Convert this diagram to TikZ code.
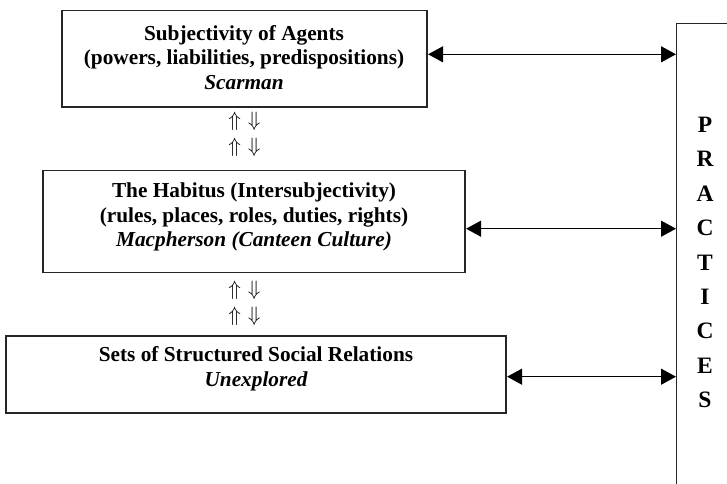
\documentclass[tikz,border=0pt]{standalone}
\usepackage{fontspec}
\setmainfont{Liberation Serif}
\usetikzlibrary{arrows.meta}
\tikzset{
  boxshape/.style={draw=black!85, line width=1.2pt, rectangle, inner sep=0pt},
  boxtext/.style={align=center, inner sep=0pt, font=\fontsize{21.3}{24.5}\selectfont\bfseries},
  dbl/.style={line width=1.2pt, {Triangle[length=15pt,width=16pt]}-{Triangle[length=15pt,width=16pt]}, shorten <=0.5pt},
  updown/.style={inner sep=0pt, font=\fontsize{20.5}{24}\selectfont},
  lettercol/.style={align=center, inner sep=0pt, font=\fontsize{23.5}{34.4}\selectfont\bfseries}
}
\newcommand{\ud}{$\Uparrow$\hspace{7pt}$\Downarrow$}
\begin{document}
\begin{tikzpicture}[x=1pt,y=1pt]
\useasboundingbox (0,0) rectangle (727,483);
\clip (0,0) rectangle (727,483);
% boxes
\node[boxshape, minimum width=365pt, minimum height=96.3pt] (b1) at (244.5,424.15) {};
\node[boxshape, minimum width=422pt, minimum height=102pt] (b2) at (254,261.3) {};
\node[boxshape, minimum width=500pt, minimum height=77pt] (b3) at (256,108.5) {};
% practices box (extends past the right and bottom edges)
\node[boxshape, minimum width=140pt, minimum height=500pt, anchor=north west] (pr) at (676,460.3) {};
% texts
\node[boxtext] (t1) at (244,425.5) {Subjectivity of Agents\\(powers, liabilities, predispositions)\\\itshape Scarman};
\node[boxtext] (t2) at (254,266) {The Habitus (Intersubjectivity)\\(rules, places, roles, duties, rights)\\\itshape Macpherson (Canteen Culture)};
\node[boxtext] (t3) at (256,114) {Sets of Structured Social Relations\\\itshape Unexplored};
\node[lettercol] (pt) at (705,220.5) {P\\R\\A\\C\\T\\I\\C\\E\\S};
% up/down arrows
\node[updown] (ar1) at (244.5,362) {\ud};
\node[updown] (ar2) at (244.5,336) {\ud};
\node[updown] (ar3) at (244.5,193) {\ud};
\node[updown] (ar4) at (244.5,166.3) {\ud};
% connectors
\coordinate (y1) at (0,428.7);
\coordinate (y2) at (0,254.3);
\coordinate (y3) at (0,106.3);
\draw[dbl] (b1.east |- y1) -- (pr.west |- y1);
\draw[dbl] (b2.east |- y2) -- (pr.west |- y2);
\draw[dbl] (b3.east |- y3) -- (pr.west |- y3);
\end{tikzpicture}
\end{document}
